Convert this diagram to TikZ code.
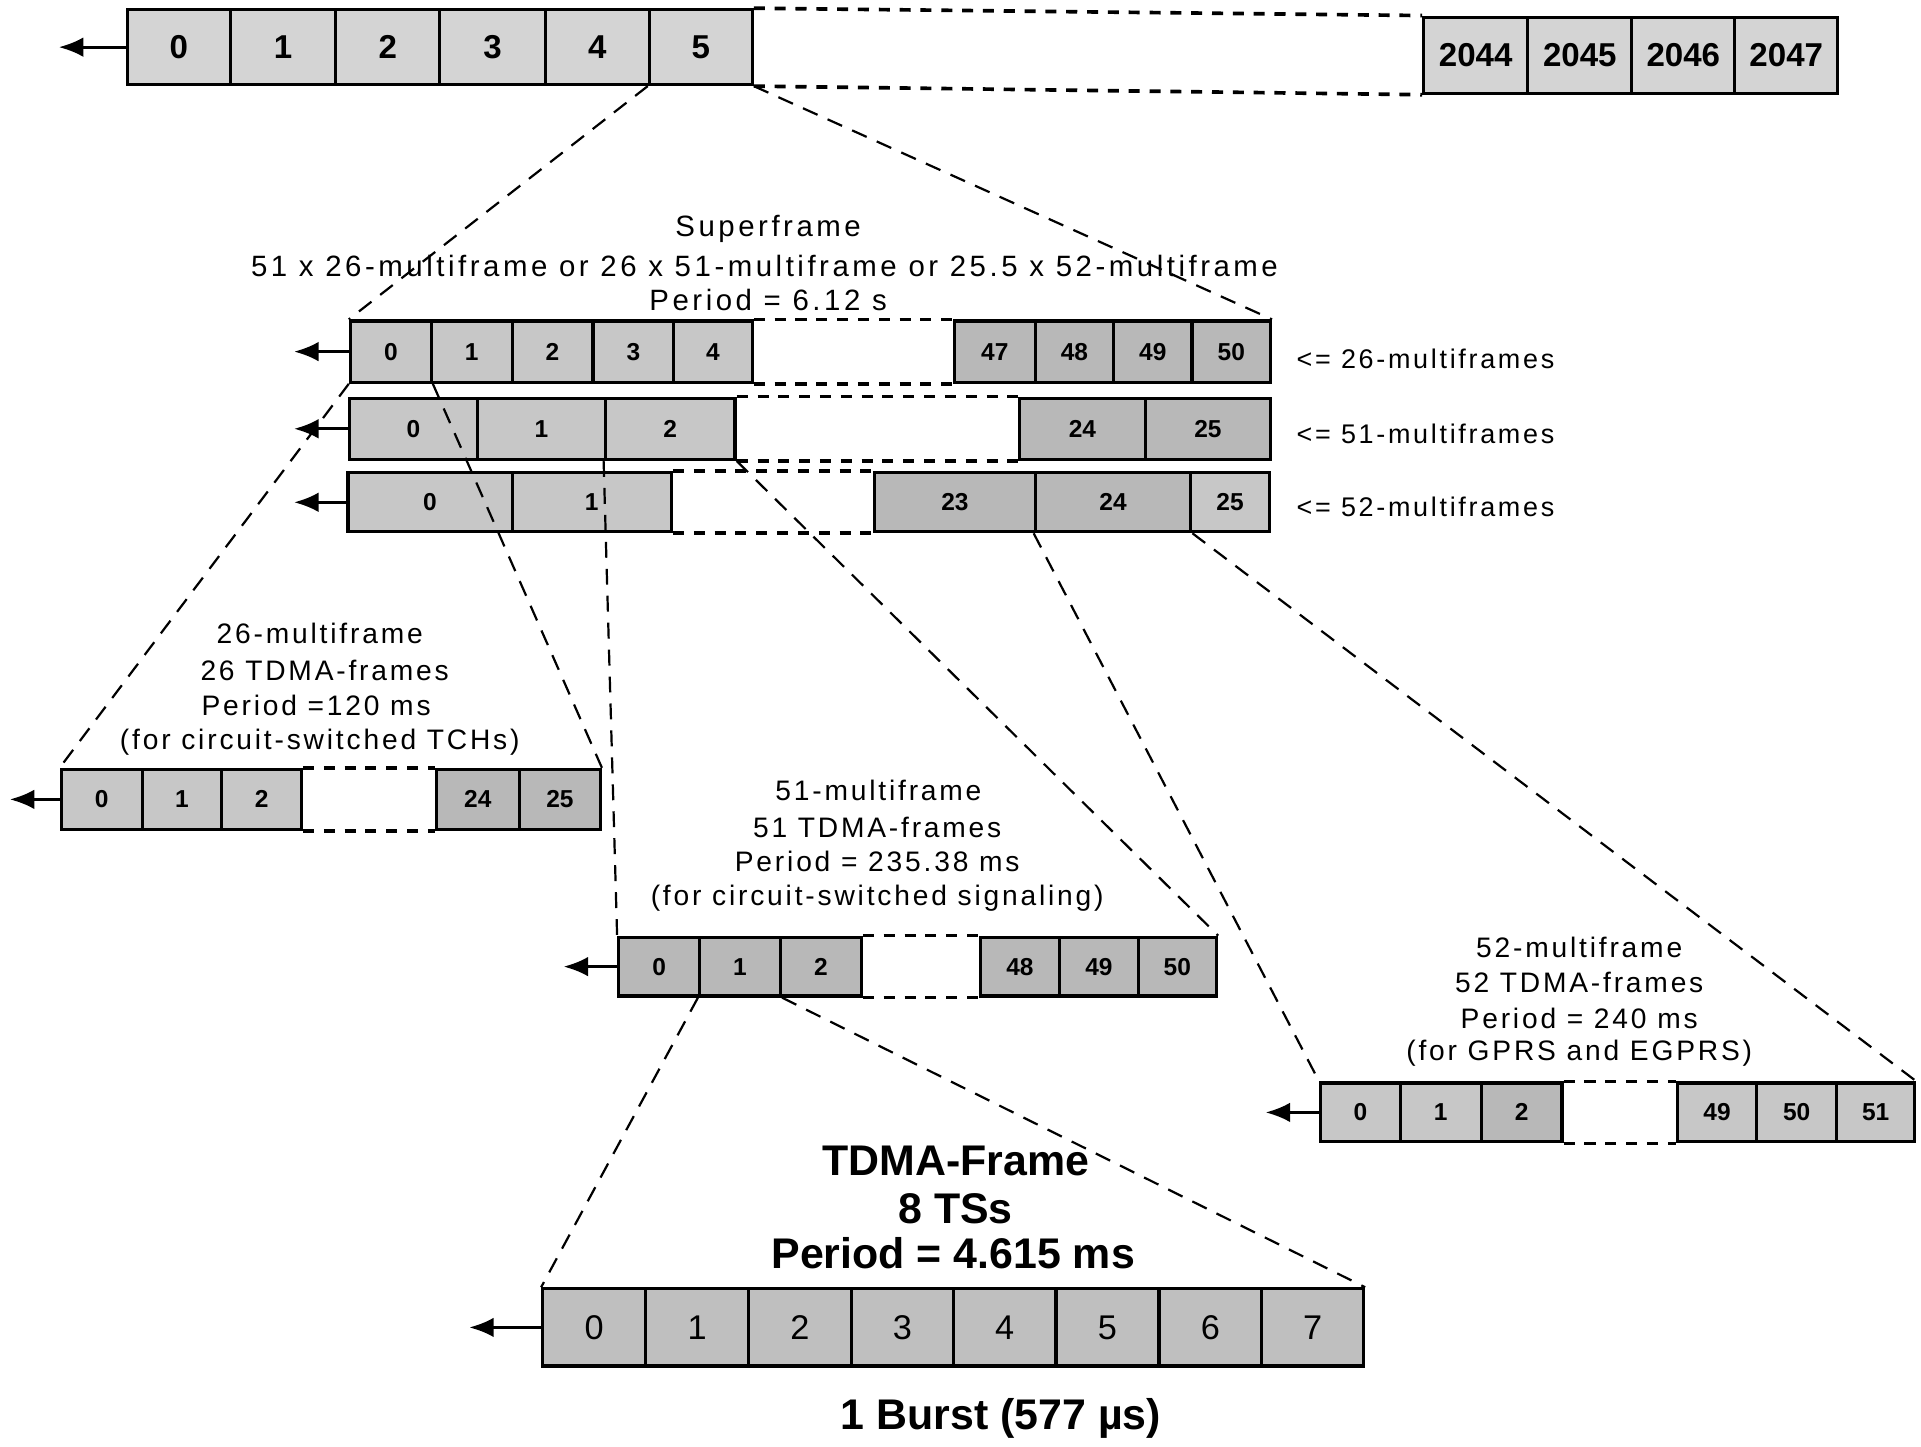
\documentclass[tikz,border=0pt]{standalone}
\usepackage{fontspec}
\setmainfont{Liberation Sans}
\newfontfamily\spaced[LetterSpace=10]{Liberation Sans}
\newfontfamily\spacedwide[LetterSpace=12]{Liberation Sans}
\usetikzlibrary{arrows.meta}

\newcommand\mkcell[7]{% style, name, x1, x2, y1, y2, label
  \pgfmathsetmacro\cellw{(#4-#3)*0.5}%
  \pgfmathsetmacro\cellh{(#6-#5)*0.5}%
  \node[#1, minimum width=\cellw pt, minimum height=\cellh pt] (#2) at ({(#3+#4)/2},{(#5+#6)/2}) {#7};}

\tikzset{
  cellbox/.style={draw=black, line width=1.3pt, inner sep=0pt, rectangle},
  topcell/.style={cellbox, fill=black!17, font=\fontsize{13.5pt}{16pt}\selectfont\bfseries},
  rowcell/.style={cellbox, fill=black!22, font=\fontsize{10pt}{12pt}\selectfont\bfseries},
  darkcell/.style={cellbox, fill=black!28, font=\fontsize{10pt}{12pt}\selectfont\bfseries},
  tdmacell/.style={cellbox, fill=black!25, font=\fontsize{14pt}{16pt}\selectfont},
  gapdash/.style={line width=1.5pt, dash pattern=on 4.5pt off 4pt},
  expdash/.style={line width=0.9pt, dash pattern=on 6.5pt off 4.5pt},
  arr/.style={line width=1.2pt, -{Latex[length=10pt,width=8pt]}},
  sftxt/.style={font=\fontsize{12pt}{14.5pt}\spacedwide, inner sep=0pt},
  desctxt/.style={font=\fontsize{11.5pt}{14pt}\spaced, inner sep=0pt},
  rowtxt/.style={font=\fontsize{11pt}{13pt}\spaced, inner sep=0pt, anchor=west},
  bigtxt/.style={font=\fontsize{17.5pt}{20pt}\selectfont\bfseries, inner sep=0pt},
}

\begin{document}
\begin{tikzpicture}[x=0.5pt, y=-0.5pt]
\useasboundingbox (0,0) rectangle (1568,1181.1);

% ---------- top row: 0..5 ... 2044..2047
\mkcell{topcell}{t0}{104}{188}{8}{69}{0}
\mkcell{topcell}{t1}{188}{274}{8}{69}{1}
\mkcell{topcell}{t2}{274}{359}{8}{69}{2}
\mkcell{topcell}{t3}{359}{445}{8}{69}{3}
\mkcell{topcell}{t4}{445}{530}{8}{69}{4}
\mkcell{topcell}{t5}{530}{614}{8}{69}{5}
\mkcell{topcell}{r44}{1162}{1247}{14}{76}{2044}
\mkcell{topcell}{r45}{1247}{1332}{14}{76}{2045}
\mkcell{topcell}{r46}{1332}{1416}{14}{76}{2046}
\mkcell{topcell}{r47}{1416}{1500}{14}{76}{2047}
\coordinate (tA) at (48,38.5);

% ---------- superframe: 26-multiframes
\mkcell{rowcell}{a0}{286}{352}{262}{312}{0}
\mkcell{rowcell}{a1}{352}{418}{262}{312}{1}
\mkcell{rowcell}{a2}{418}{484}{262}{312}{2}
\mkcell{rowcell}{a3}{484}{550}{262}{312}{3}
\mkcell{rowcell}{a4}{550}{614}{262}{312}{4}
\mkcell{darkcell}{a47}{779}{845}{262}{312}{47}
\mkcell{darkcell}{a48}{845}{909}{262}{312}{48}
\mkcell{darkcell}{a49}{909}{973}{262}{312}{49}
\mkcell{darkcell}{a50}{973}{1037}{262}{312}{50}
\coordinate (aA) at (240,287);

% ---------- 51-multiframes
\mkcell{rowcell}{b0}{285}{390}{325}{375}{0}
\mkcell{rowcell}{b1}{390}{494}{325}{375}{1}
\mkcell{rowcell}{b2}{494}{600}{325}{375}{2}
\mkcell{darkcell}{b24}{832}{935}{325}{375}{24}
\mkcell{darkcell}{b25}{935}{1037}{325}{375}{25}
\coordinate (bA) at (240,350);

% ---------- 52-multiframes
\mkcell{rowcell}{d0}{284}{418}{386}{434}{0}
\mkcell{rowcell}{d1}{418}{548}{386}{434}{1}
\mkcell{darkcell}{d23}{714}{845}{386}{434}{23}
\mkcell{darkcell}{d24}{845}{972}{386}{434}{24}
\mkcell{rowcell}{d25}{972}{1036}{386}{434}{25}
\coordinate (dA) at (240,410);

% ---------- 26-multiframe
\mkcell{rowcell}{m0}{50}{116}{628}{677}{0}
\mkcell{rowcell}{m1}{116}{181}{628}{677}{1}
\mkcell{rowcell}{m2}{181}{246}{628}{677}{2}
\mkcell{darkcell}{m24}{356}{424}{628}{677}{24}
\mkcell{darkcell}{m25}{424}{490}{628}{677}{25}
\coordinate (mA) at (8,652.5);

% ---------- 51-multiframe
\mkcell{darkcell}{c0}{505}{571}{765}{813}{0}
\mkcell{darkcell}{c1}{571}{637}{765}{813}{1}
\mkcell{darkcell}{c2}{637}{703}{765}{813}{2}
\mkcell{darkcell}{c48}{800}{865}{765}{813}{48}
\mkcell{darkcell}{c49}{865}{929}{765}{813}{49}
\mkcell{darkcell}{c50}{929}{993}{765}{813}{50}
\coordinate (cA) at (460,789);

% ---------- 52-multiframe
\mkcell{rowcell}{e0}{1078}{1143}{884}{932}{0}
\mkcell{rowcell}{e1}{1143}{1209}{884}{932}{1}
\mkcell{darkcell}{e2}{1209}{1275}{884}{932}{2}
\mkcell{rowcell}{e49}{1369}{1434}{884}{932}{49}
\mkcell{rowcell}{e50}{1434}{1499}{884}{932}{50}
\mkcell{rowcell}{e51}{1499}{1563}{884}{932}{51}
\coordinate (eA) at (1033,908);

% ---------- TDMA frame
\mkcell{tdmacell}{f0}{443}{527}{1052}{1115}{0}
\mkcell{tdmacell}{f1}{527}{611}{1052}{1115}{1}
\mkcell{tdmacell}{f2}{611}{695}{1052}{1115}{2}
\mkcell{tdmacell}{f3}{695}{778}{1052}{1115}{3}
\mkcell{tdmacell}{f4}{778}{862}{1052}{1115}{4}
\mkcell{tdmacell}{f5}{862}{946}{1052}{1115}{5}
\mkcell{tdmacell}{f6}{946}{1030}{1052}{1115}{6}
\mkcell{tdmacell}{f7}{1030}{1113}{1052}{1115}{7}
\coordinate (fA) at (383,1083.5);

% ---------- arrows
\draw[arr] (t0.west) -- (tA);
\draw[arr] (a0.west) -- (aA);
\draw[arr] (b0.west) -- (bA);
\draw[arr] (d0.west) -- (dA);
\draw[arr] (m0.west) -- (mA);
\draw[arr] (c0.west) -- (cA);
\draw[arr] (e0.west) -- (eA);
\draw[arr] (f0.west) -- (fA);

% ---------- gap dashes
\draw[gapdash] (t5.north east) -- (r44.north west);
\draw[gapdash] (t5.south east) -- (r44.south west);
\draw[gapdash] (a4.north east) -- (a47.north west);
\draw[gapdash] (a4.south east) -- (a47.south west);
\draw[gapdash] (b2.north east) -- (b24.north west);
\draw[gapdash] (b2.south east) -- (b24.south west);
\draw[gapdash] (d1.north east) -- (d23.north west);
\draw[gapdash] (d1.south east) -- (d23.south west);
\draw[gapdash] (m2.north east) -- (m24.north west);
\draw[gapdash] (m2.south east) -- (m24.south west);
\draw[gapdash] (c2.north east) -- (c48.north west);
\draw[gapdash] (c2.south east) -- (c48.south west);
\draw[gapdash] (e2.north east) -- (e49.north west);
\draw[gapdash] (e2.south east) -- (e49.south west);

% ---------- expansion lines
\draw[expdash] (t5.south west) -- (a0.north west);
\draw[expdash] (t5.south east) -- (a50.north east);
\draw[expdash] (a0.south west) -- (m0.north west);
\draw[expdash] (a0.south east) -- (m25.north east);
\draw[expdash] (b2.south west) -- (c0.north west);
\draw[expdash] (b2.south east) -- (c50.north east);
\draw[expdash] (d24.south west) -- (e0.north west);
\draw[expdash] (d24.south east) -- (e51.north east);
\draw[expdash] (c1.south west) -- (f0.north west);
\draw[expdash] (c1.south east) -- (f7.north east);

% ---------- texts
\node[sftxt] (sf1) at (627,187) {Superframe};
\node[sftxt] (sf2) at (624,217) {51 x 26-multiframe or 26 x 51-multiframe or 25.5 x 52-multiframe};
\node[sftxt] (sf3) at (627,245) {Period = 6.12 s};

\node[rowtxt] (la) at (1058,293) {<= 26-multiframes};
\node[rowtxt] (lb) at (1058,354) {<= 51-multiframes};
\node[rowtxt] (ld) at (1058,414) {<= 52-multiframes};

\node[desctxt] (m1t) at (261,517) {26-multiframe};
\node[desctxt] (m2t) at (265,547) {26 TDMA-frames};
\node[desctxt] (m3t) at (258,576) {Period =120 ms};
\node[desctxt] (m4t) at (261,606) {(for circuit-switched TCHs)};

\node[desctxt] (c1t) at (717,645) {51-multiframe};
\node[desctxt] (c2t) at (716,675) {51 TDMA-frames};
\node[desctxt] (c3t) at (716,703) {Period = 235.38 ms};
\node[desctxt] (c4t) at (716,733) {(for circuit-switched signaling)};

\node[desctxt] (e1t) at (1289,773) {52-multiframe};
\node[desctxt] (e2t) at (1289,802) {52 TDMA-frames};
\node[desctxt] (e3t) at (1289,831) {Period = 240 ms};
\node[desctxt] (e4t) at (1289,860) {(for GPRS and EGPRS)};

\node[bigtxt] (f1t) at (780,948) {TDMA-Frame};
\node[bigtxt] (f2t) at (780,987) {8 TSs};
\node[bigtxt] (f3t) at (778,1023) {Period = 4.615 ms};
\node[bigtxt] (f4t) at (817,1158) {1 Burst (577 µs)};
\end{tikzpicture}
\end{document}
